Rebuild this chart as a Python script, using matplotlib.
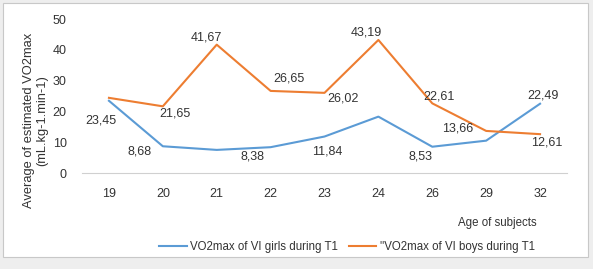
import numpy as np
import matplotlib.pyplot as plt
from matplotlib.patches import Rectangle

plt.rcParams['font.family'] = ['Liberation Sans', 'DejaVu Sans']

# Datos
ages = ["19", "20", "21", "22", "23", "24", "26", "29", "32"]
girls = [23.45, 8.68, 7.5, 8.38, 11.84, 18.3, 8.53, 10.5, 22.49]
boys = [24.4, 21.65, 41.67, 26.65, 26.02, 43.19, 22.61, 13.66, 12.61]

# Etiquetas mostradas (índice, texto)
girls_labels = [(0, "23,45"), (1, "8,68"), (3, "8,38"), (4, "11,84"), (6, "8,53"), (8, "22,49")]
boys_labels = [(1, "21,65"), (2, "41,67"), (3, "26,65"), (4, "26,02"), (5, "43,19"),
               (6, "22,61"), (7, "13,66"), (8, "12,61")]

# desplazamientos en pixeles de cada etiqueta
girls_off = [(-8, -20), (-23, -5), (-18, -9), (3, -15), (-12, -10), (3, 8)]
boys_off = [(12, -7), (-10, 7), (18, 12), (18, -6), (-12, 7), (7, 7), (-28, 2), (7, -8)]

blue = "#5B9BD5"
orange = "#ED7D31"

fig = plt.figure(figsize=(5.93, 2.69), dpi=100, facecolor="#eeeeee")
fig.patches.append(Rectangle((3 / 593, 1 - 257 / 269), 585 / 593, 254 / 269,
                             transform=fig.transFigure, facecolor="white",
                             edgecolor="#c8c8c8", lw=0.8, zorder=-1))

ax = fig.add_axes([82 / 593, 1 - 173 / 269, 485 / 593, 154 / 269])
ax.set_facecolor("none")
x = np.arange(len(ages))

ax.plot(x, girls, color=blue, lw=1.5, label="VO2max of VI girls during T1")
ax.plot(x, boys, color=orange, lw=1.5, label="''VO2max of VI boys during T1")

for (i, t), (dx, dy) in zip(girls_labels, girls_off):
    ax.annotate(t, (x[i], girls[i]), xytext=(dx, dy), textcoords="offset pixels",
                ha="center", va="center", fontsize=9, color="#333333")
for (i, t), (dx, dy) in zip(boys_labels, boys_off):
    ax.annotate(t, (x[i], boys[i]), xytext=(dx, dy), textcoords="offset pixels",
                ha="center", va="center", fontsize=9, color="#333333")

ax.set_xlim(-0.5, len(ages) - 0.5)
ax.set_ylim(0, 50)
ax.set_xticks(x)
ax.set_xticklabels(ages)
ax.set_yticks([0, 10, 20, 30, 40, 50])
ax.tick_params(length=0, labelsize=9, colors="#333333")
ax.tick_params(axis="x", pad=11)
ax.tick_params(axis="y", pad=11)
for s in ["top", "right", "left"]:
    ax.spines[s].set_visible(False)
ax.spines["bottom"].set_color("#d0d0d0")

ax.set_ylabel("Average of estimated VO2max\n(mL.kg-1.min-1)", fontsize=9.3,
              color="#333333", linespacing=1.15)
ax.yaxis.set_label_coords(-0.07, 0.34)

fig.text(537 / 593, 1 - 223 / 269, "Age of subjects", ha="right", va="center",
         fontsize=8.3, color="#333333")

ax.legend(loc="center", bbox_to_anchor=(347 / 593, 1 - 247 / 269),
          bbox_transform=fig.transFigure, ncol=2, frameon=False, fontsize=8.3,
          handlelength=2.4, handletextpad=0.3, columnspacing=0.9,
          labelcolor="#333333")

plt.savefig("out.png", dpi=100, facecolor=fig.get_facecolor())
